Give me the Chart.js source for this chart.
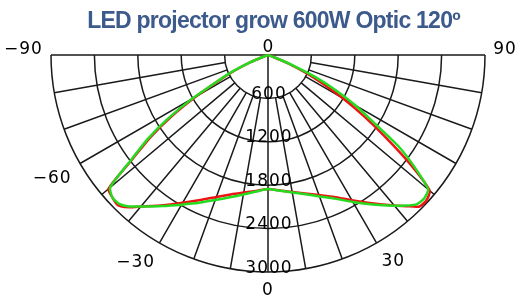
<!DOCTYPE html>
<html>
<head>
<meta charset="utf-8">
<style>
  html, body { margin: 0; padding: 0; background: #fff; }
  canvas { display: block; }
</style>
</head>
<body>
<canvas id="polarChart" width="518" height="297"></canvas>

<script src="https://cdn.jsdelivr.net/npm/chart.js@4.4.0/dist/chart.umd.min.js"></script>
<script>
  (() => {
  const chartTitle = "LED projector grow 600W Optic 120º";

  // angle from nadir, degrees (left negative)
  const angles = [-90, -80, -70, -67.5, -65, -62.5, -60, -57.5, -55, -52.5, -50, -47.5, -45, -42.5, -40,
    -35, -30, -25, -20, -15, -10, -5, 0, 5, 10, 15, 20, 25, 30, 35,
    40, 42.5, 45, 47.5, 50, 52.5, 55, 57.5, 60, 62.5, 65, 67.5, 70, 80, 90];

  const greenValues = [0, 0, 80, 300, 560, 800, 1220, 1650, 2040, 2390, 2848, 2917, 2909, 2840, 2735,
    2549, 2389, 2255, 2133, 2037, 1958, 1895, 1853, 1884, 1929, 1992, 2081, 2191, 2345, 2522,
    2721, 2824, 2914, 2931, 2890, 2563, 2205, 1725, 1397, 1062, 718, 380, 100, 0, 0];

  const redValues = [0, 0, 60, 260, 500, 760, 1150, 1580, 1990, 2360, 2879, 2917, 2935, 2853, 2733,
    2534, 2357, 2212, 2089, 1996, 1931, 1886, 1853, 1882, 1922, 1981, 2060, 2164, 2318, 2502,
    2717, 2834, 2961, 2972, 2920, 2480, 1990, 1567, 1190, 850, 560, 300, 70, 0, 0];

  const ringValues = [600, 1200, 1800, 2400, 3000];
  const spokeAngles = [-80, -70, -60, -50, -40, -30, -20, -10, 10, 20, 30, 40, 50, 60, 70, 80];
  const angleLabels = [-90, -60, -30, 0, 30, 90];

  function toXY(values) {
    return angles.map((a, i) => {
      const t = a * Math.PI / 180;
      return { x: values[i] * Math.sin(t), y: -values[i] * Math.cos(t) };
    });
  }

  const polarGrid = {
    id: 'polarGrid',
    beforeDatasetsDraw(chart) {
      const ctx = chart.ctx;
      const xs = chart.scales.x, ys = chart.scales.y;
      const cx = xs.getPixelForValue(0), cy = ys.getPixelForValue(0);
      const rad = v => xs.getPixelForValue(v) - cx;
      const R = rad(3000), r0 = rad(ringValues[0]);
      const pt = (a, r) => {
        const t = a * Math.PI / 180;
        return [cx + r * Math.sin(t), cy + r * Math.cos(t)];
      };

      ctx.save();
      // title
      ctx.fillStyle = '#3d5a8c';
      ctx.font = 'bold 23px "Liberation Sans", Arial, sans-serif';
      ctx.letterSpacing = '-0.75px';
      ctx.textAlign = 'center';
      ctx.textBaseline = 'alphabetic';
      ctx.fillText(chartTitle, 273.5, 28);

      // grid
      ctx.strokeStyle = '#1a1a1a';
      ctx.lineWidth = 1.5;
      ctx.beginPath();
      ctx.moveTo(cx - R, cy);
      ctx.lineTo(cx + R, cy);
      ctx.moveTo(cx, cy);
      ctx.lineTo(cx, cy + R);
      spokeAngles.forEach(a => {
        const p1 = pt(a, r0), p2 = pt(a, R);
        ctx.moveTo(p1[0], p1[1]);
        ctx.lineTo(p2[0], p2[1]);
      });
      ctx.stroke();
      ringValues.forEach(v => {
        ctx.beginPath();
        ctx.arc(cx, cy, rad(v), 0, Math.PI);
        ctx.stroke();
      });

      // ring labels
      ctx.fillStyle = '#000';
      ctx.font = '17px "DejaVu Sans", sans-serif';
      ctx.letterSpacing = '1px';
      ctx.textAlign = 'center';
      ringValues.forEach(v => {
        ctx.fillText(String(v), cx + 1, cy + rad(v) + 0.5);
      });

      // angle labels: digits centred on the point, minus hangs left
      const nudge = { '-60': 0.6, '-30': -1, '30': 1.2 };
      ctx.textBaseline = 'middle';
      ctx.textAlign = 'right';
      angleLabels.forEach(a => {
        const digits = String(Math.abs(a));
        const text = (a < 0 ? '\u2212' : '') + digits;
        let p;
        if (Math.abs(a) === 90) p = [cx + Math.sign(a) * (R + 20), cy - 5];
        else if (a === 0) p = [cx, cy + R + 19];
        else p = pt(a + (nudge[a] || 0), 242);
        const w = ctx.measureText(digits).width;
        ctx.fillText(text, p[0] + w / 2, p[1]);
      });
      ctx.textAlign = 'center';
      ctx.fillText('0', cx + 0.5, cy - 7);
      ctx.restore();
    }
  };

  const ctx = document.getElementById('polarChart').getContext('2d');
  new Chart(ctx, {
    type: 'scatter',
    data: {
      datasets: [{
        label: 'green',
        data: toXY(greenValues),
        showLine: true,
        borderColor: '#25db1f',
        borderWidth: 2.5,
        pointRadius: 0,
        tension: 0.2,
        clip: false
      }, {
        label: 'red',
        data: toXY(redValues),
        showLine: true,
        borderColor: '#ee1414',
        borderWidth: 2.5,
        pointRadius: 0,
        tension: 0.2,
        clip: false
      }]
    },
    options: {
      responsive: false,
      animation: false,
      layout: { padding: { left: 51, right: 33, top: 55, bottom: 25 } },
      scales: {
        x: { type: 'linear', min: -3000, max: 3000, display: false },
        y: { type: 'linear', min: -3000, max: 0, display: false }
      },
      plugins: {
        legend: { display: false },
        tooltip: { enabled: false }
      }
    },
    plugins: [polarGrid]
  });
  })();
</script>
</body>
</html>
